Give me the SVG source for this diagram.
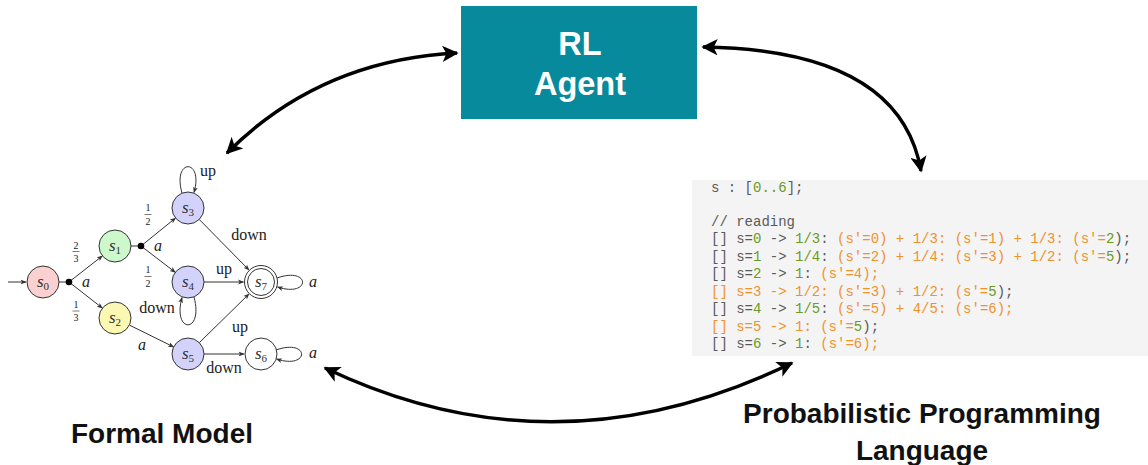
<svg xmlns="http://www.w3.org/2000/svg" width="1148" height="465" viewBox="0 0 1148 465">
<style>
.big{stroke:#000;stroke-width:3.4;fill:none}
.edge{stroke:#333;stroke-width:1;fill:none}
.node{stroke:#333;stroke-width:1}
.lbl{font-family:"Liberation Serif",serif;font-size:16px;fill:#222;text-anchor:middle}
.it{font-style:italic}
.fr{font-family:"Liberation Serif",serif;font-size:10px;fill:#222;text-anchor:middle}
.sl{font-family:"Liberation Serif",serif;font-style:italic;font-size:17px;fill:#333;text-anchor:middle}
.code{font-family:"Liberation Mono","DejaVu Sans Mono",monospace;font-size:14px;fill:#5a5a5a;white-space:pre}
.g{fill:#6b9a22}.o{fill:#f0922a}
.title{font-family:"Liberation Sans",Arial,sans-serif;font-weight:bold;fill:#111;text-anchor:middle}
</style>
<defs>
<marker id="bh" viewBox="0 0 10 10" refX="9" refY="5" markerWidth="4.8" markerHeight="4.8" markerUnits="strokeWidth" orient="auto-start-reverse">
<path d="M0,0 L10,5 L0,10 L2.5,5 z" fill="#000"/>
</marker>
<marker id="sh" viewBox="0 0 10 10" refX="9" refY="5" markerWidth="6" markerHeight="6" markerUnits="strokeWidth" orient="auto">
<path d="M0,1 L10,5 L0,9 L2.5,5 z" fill="#333"/>
</marker>
</defs>

<g id="rl-agent">
<rect x="461" y="6" width="236" height="113" fill="#068a9c"/>
<text class="title" x="580" y="55" font-size="32.5" style="fill:#fff">RL</text>
<text class="title" x="580" y="95" font-size="32.5" style="fill:#fff">Agent</text>
</g>

<g id="code-box">
<rect x="692" y="180" width="456" height="176" fill="#f4f4f4"/>
<text class="code" x="711" y="192">s : [<tspan class="g">0..6</tspan>];</text>
<text class="code" x="711" y="226">// reading</text>
<text class="code" x="711" y="243">[] s=<tspan class="g">0</tspan> -&gt; <tspan class="g">1/3</tspan>: <tspan class="o">(s'=0) + 1/3: (s'=1) + 1/3: (s'=</tspan><tspan class="g">2</tspan>);</text>
<text class="code" x="711" y="260.5">[] s=<tspan class="g">1</tspan> -&gt; <tspan class="g">1/4</tspan>: <tspan class="o">(s'=2) + 1/4: (s'=3) + 1/2: (s'=</tspan><tspan class="g">5</tspan>);</text>
<text class="code" x="711" y="278">[] s=<tspan class="g">2</tspan> -&gt; <tspan class="g">1</tspan>: <tspan class="o">(s'=4);</tspan></text>
<text class="code" x="711" y="295.5"><tspan class="o">[] s=3 -&gt; 1/2: (s'=3) + 1/2: (s'=</tspan><tspan class="g">5</tspan>);</text>
<text class="code" x="711" y="313">[] s=<tspan class="g">4</tspan> -&gt; <tspan class="g">1/5</tspan>: <tspan class="o">(s'=5) + 4/5: (s'=6);</tspan></text>
<text class="code" x="711" y="330.5"><tspan class="o">[] s=5 -&gt; 1: (s'=</tspan><tspan class="g">5</tspan>);</text>
<text class="code" x="711" y="348">[] s=<tspan class="g">6</tspan> -&gt; <tspan class="g">1</tspan>: <tspan class="o">(s'=6);</tspan></text>
</g>

<g id="formal-model">
<g id="edges">
<path class="edge" d="M8,282 L26,282" marker-end="url(#sh)"/>
<path class="edge" d="M59,282 L69,282"/>
<path class="edge" d="M69,282 L102.4,255.9" marker-end="url(#sh)"/>
<path class="edge" d="M69,282 L102.4,308.1" marker-end="url(#sh)"/>
<path class="edge" d="M131,246 L141,246"/>
<path class="edge" d="M141,246 L175.5,218.1" marker-end="url(#sh)"/>
<path class="edge" d="M141,246 L175.3,272.3" marker-end="url(#sh)"/>
<path class="edge" d="M199.2,219.4 L249,270" marker-end="url(#sh)"/>
<path class="edge" d="M204,282 L243.5,282" marker-end="url(#sh)"/>
<path class="edge" d="M199.3,342.7 L249,294" marker-end="url(#sh)"/>
<path class="edge" d="M204,354 L244,354" marker-end="url(#sh)"/>
<path class="edge" d="M129.4,325.1 L173.6,346.9" marker-end="url(#sh)"/>
<path class="edge" d="M182,193 C172,158 204,158 194,192.5" marker-end="url(#sh)"/>
<path class="edge" d="M194,297 C204,334 172,334 182,297.5" marker-end="url(#sh)"/>
<path class="edge" d="M277,278 C311,266 311,298 277.5,287" marker-end="url(#sh)"/>
<path class="edge" d="M276,350 C310,338 310,370 276.5,359" marker-end="url(#sh)"/>
<circle cx="69" cy="282" r="3.3" fill="#000"/>
<circle cx="141" cy="246" r="3.3" fill="#000"/>
</g>
<g id="s0"><circle class="node" cx="43" cy="282" r="16" fill="#fbd0d0"/><text class="sl" x="43" y="287">s<tspan font-size="11" font-style="normal" dy="3">0</tspan></text></g>
<g id="s1"><circle class="node" cx="115" cy="246" r="16" fill="#ccf8cc"/><text class="sl" x="115" y="251">s<tspan font-size="11" font-style="normal" dy="3">1</tspan></text></g>
<g id="s2"><circle class="node" cx="115" cy="318" r="16" fill="#fbf8b3"/><text class="sl" x="115" y="323">s<tspan font-size="11" font-style="normal" dy="3">2</tspan></text></g>
<g id="s3"><circle class="node" cx="188" cy="208" r="16" fill="#d2d2fb"/><text class="sl" x="188" y="213">s<tspan font-size="11" font-style="normal" dy="3">3</tspan></text></g>
<g id="s4"><circle class="node" cx="188" cy="282" r="16" fill="#d2d2fb"/><text class="sl" x="188" y="287">s<tspan font-size="11" font-style="normal" dy="3">4</tspan></text></g>
<g id="s5"><circle class="node" cx="188" cy="354" r="16" fill="#d2d2fb"/><text class="sl" x="188" y="359">s<tspan font-size="11" font-style="normal" dy="3">5</tspan></text></g>
<g id="s6"><circle class="node" cx="261" cy="354" r="16" fill="#fff"/><text class="sl" x="261" y="359">s<tspan font-size="11" font-style="normal" dy="3">6</tspan></text></g>
<g id="s7"><circle class="node" cx="261" cy="282" r="16.5" fill="#fff"/><circle class="node" cx="261" cy="282" r="13.5" fill="none"/><text class="sl" x="261" y="287">s<tspan font-size="11" font-style="normal" dy="3">7</tspan></text></g>
<g id="labels">
<text class="lbl it" x="86" y="287">a</text>
<text class="lbl it" x="158" y="251">a</text>
<text class="lbl it" x="142" y="350">a</text>
<text class="lbl it" x="313" y="287">a</text>
<text class="lbl it" x="313" y="358">a</text>
<text class="lbl" x="208" y="176">up</text>
<text class="lbl" x="249" y="240">down</text>
<text class="lbl" x="224" y="274">up</text>
<text class="lbl" x="157" y="313">down</text>
<text class="lbl" x="240" y="332">up</text>
<text class="lbl" x="224" y="373">down</text>
<text class="fr" x="76" y="248.5">2</text><path d="M72.5,251.5 H79.5" stroke="#222" stroke-width="0.6"/><text class="fr" x="76" y="261.5">3</text>
<text class="fr" x="76" y="307.5">1</text><path d="M72.5,311 H79.5" stroke="#222" stroke-width="0.6"/><text class="fr" x="76" y="321">3</text>
<text class="fr" x="148" y="210.5">1</text><path d="M144.5,214.5 H151.5" stroke="#222" stroke-width="0.6"/><text class="fr" x="148" y="224.5">2</text>
<text class="fr" x="148" y="273">1</text><path d="M144.5,276.5 H151.5" stroke="#222" stroke-width="0.6"/><text class="fr" x="148" y="286.5">2</text>
</g>
</g>

<g id="connectors">
<path class="big" d="M457,53 Q320,60 227,153" marker-start="url(#bh)" marker-end="url(#bh)"/>
<path class="big" d="M703,47 Q900,50 921,171" marker-start="url(#bh)" marker-end="url(#bh)"/>
<path class="big" d="M325,368 Q555,478 792,363" marker-start="url(#bh)" marker-end="url(#bh)"/>
</g>

<g id="captions">
<text class="title" x="162" y="443" font-size="28">Formal Model</text>
<text class="title" x="922" y="423" font-size="28">Probabilistic Programming</text>
<text class="title" x="922" y="460" font-size="28">Language</text>
</g>
</svg>
